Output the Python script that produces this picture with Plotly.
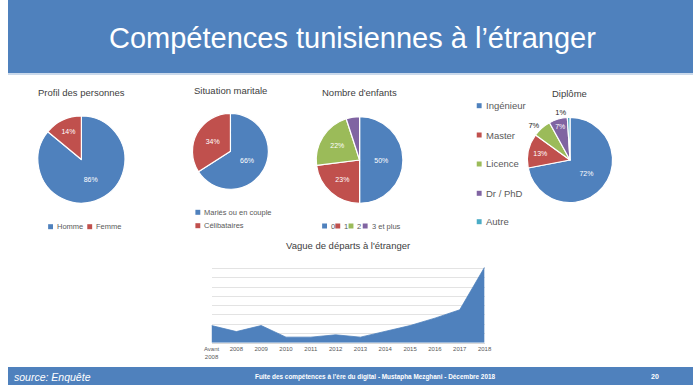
import plotly.graph_objects as go

W, H = 700, 385

# ---------------- data ----------------
profil_labels = ["Homme", "Femme"]
profil_values = [86, 14]

maritale_labels = ["Mariés ou en couple", "Célibataires"]
maritale_values = [66, 34]

enfants_labels = ["0", "1", "2", "3 et plus"]
enfants_values = [50, 23, 22, 5]

diplome_labels = ["Ingénieur", "Master", "Licence", "Dr / PhD", "Autre"]
diplome_values = [72, 13, 7, 7, 1]

annees = ["Avant<br>2008", "2008", "2009", "2010", "2011", "2012",
          "2013", "2014", "2015", "2016", "2017", "2018"]
departs = [37, 24, 37, 12, 12, 17, 12, 24, 37, 53, 71, 163]

# ---------------- styles ----------------
COLORS = ["#4F81BD", "#C0504D", "#9BBB59", "#8064A2", "#4BACC6"]
BAR = "#4F81BD"
TXT = "#595959"
FONT = "Liberation Sans"


def X(px):
    return px / W


def Y(py):
    return 1 - py / H


def dom(cx, cy, r):
    return dict(x=[X(cx - r), X(cx + r)], y=[Y(cy + r), Y(cy - r)])


fig = go.Figure()

pie_common = dict(
    sort=False, direction="clockwise", rotation=0,
    marker_line=dict(color="white", width=1.2),
    insidetextorientation="horizontal",
    insidetextfont=dict(color="white", size=7, family=FONT),
    outsidetextfont=dict(color="#222222", size=7.5, family=FONT),
    showlegend=False, hoverinfo="label+percent",
)

fig.add_trace(go.Pie(labels=profil_labels, values=profil_values,
                     marker_colors=COLORS[:2], domain=dom(75, 159.5, 44.5),
                     textposition="inside",
                     texttemplate="%{percent:.0%}", **pie_common))
fig.add_trace(go.Pie(labels=maritale_labels, values=maritale_values,
                     marker_colors=COLORS[:2], domain=dom(227.3, 151.3, 38.8),
                     textposition="inside",
                     texttemplate="%{percent:.0%}", **pie_common))
fig.add_trace(go.Pie(labels=enfants_labels, values=enfants_values,
                     marker_colors=COLORS[:4], domain=dom(359.3, 160, 44.3),
                     textposition="inside",
                     texttemplate=["%{percent:.0%}"] * 3 + [""], **pie_common))
fig.add_trace(go.Pie(labels=diplome_labels, values=diplome_values,
                     marker_colors=COLORS[:5], domain=dom(574.3, 160, 43.5),
                     textposition=["inside", "inside", "outside", "inside", "outside"],
                     texttemplate="%{percent:.0%}", **pie_common))

# area chart
fig.add_trace(go.Scatter(x=annees, y=departs, mode="lines", fill="tozeroy",
                         line=dict(color=BAR, width=0.8), fillcolor=BAR,
                         showlegend=False, xaxis="x", yaxis="y"))

shapes = []
annotations = []

# header / footer bars
shapes.append(dict(type="rect", xref="paper", yref="paper", x0=0, x1=1,
                   y0=Y(73), y1=1, fillcolor="#4F81BD", line_width=0, layer="below"))
shapes.append(dict(type="line", xref="paper", yref="paper", x0=0, x1=1,
                   y0=Y(74), y1=Y(74), line=dict(color="#B8CCE4", width=1.5)))
shapes.append(dict(type="rect", xref="paper", yref="paper", x0=0, x1=1,
                   y0=0, y1=Y(367), fillcolor="#4F81BD", line_width=0, layer="below"))

annotations.append(dict(text="Compétences tunisiennes à l’étranger", x=X(352), y=Y(38),
                        xref="paper", yref="paper", showarrow=False,
                        xanchor="center", yanchor="middle",
                        font=dict(family=FONT, size=29, color="white")))
annotations.append(dict(text="<i>source: Enquête</i>", x=X(4), y=Y(376.5),
                        xref="paper", yref="paper", showarrow=False,
                        xanchor="left", yanchor="middle",
                        font=dict(family=FONT, size=10.5, color="white")))
annotations.append(dict(text="<b>Fuite des compétences à l’ère du digital - Mustapha Mezghani - Décembre 2018</b>",
                        x=X(376), y=Y(376.5), xref="paper", yref="paper", showarrow=False,
                        xanchor="center", yanchor="middle",
                        font=dict(family=FONT, size=6.4, color="white")))
annotations.append(dict(text="<b>20</b>", x=X(661), y=Y(376.5),
                        xref="paper", yref="paper", showarrow=False,
                        xanchor="center", yanchor="middle",
                        font=dict(family=FONT, size=7, color="white")))

# chart titles
for txt, cx, cy in [("Profil des personnes", 75, 92.5),
                    ("Situation maritale", 227, 90.5),
                    ("Nombre d'enfants", 359, 92.5),
                    ("Diplôme", 574, 94),
                    ("Vague de départs à l'étranger", 347, 245)]:
    annotations.append(dict(text=txt, x=X(cx), y=Y(cy), xref="paper", yref="paper",
                            showarrow=False, xanchor="center", yanchor="middle",
                            font=dict(family=FONT, size=9.5, color="#404040")))


def legend_item(label, color, x, y, size=7.5, sq=5):
    shapes.append(dict(type="rect", xref="paper", yref="paper",
                       x0=X(x), x1=X(x + sq), y0=Y(y + sq / 2), y1=Y(y - sq / 2),
                       fillcolor=color, line_width=0))
    annotations.append(dict(text=label, x=X(x + sq + 2), y=Y(y), xref="paper", yref="paper",
                            showarrow=False, xanchor="left", yanchor="middle",
                            font=dict(family=FONT, size=size, color=TXT)))


# legends
for lab, col, x in zip(profil_labels, COLORS, [41, 81]):
    legend_item(lab, col, x, 226.7)
for lab, col, y in zip(maritale_labels, COLORS, [212.3, 225.7]):
    legend_item(lab, col, 191.5, y)
for lab, col, x in zip(enfants_labels, COLORS, [321, 334.5, 348, 362.5]):
    legend_item(lab, col, x, 226)
for lab, col, y in zip(diplome_labels, COLORS, [105.7, 135, 164, 193.3, 221.7]):
    legend_item(lab, col, 479, y, size=9.5, sq=5)

fig.update_layout(
    width=W, height=H, autosize=False,
    margin=dict(l=0, r=0, t=0, b=0),
    paper_bgcolor="white", plot_bgcolor="white",
    shapes=shapes, annotations=annotations,
    xaxis=dict(domain=[X(208), X(487)], anchor="y", type="category",
               range=[0, 11], showgrid=False, zeroline=False,
               showline=True, linecolor="#D9D9D9", linewidth=1,
               ticks="", tickfont=dict(family=FONT, size=6, color=TXT),
               fixedrange=True),
    yaxis=dict(domain=[Y(342.7), Y(259.3)], anchor="x", range=[0, 180], dtick=20,
               showgrid=True, gridcolor="#E3E3E3", gridwidth=1,
               zeroline=False, showticklabels=False, ticks="", fixedrange=True),
)

post = (
    "document.documentElement.style.margin='0';"
    "document.body.style.margin='0';document.body.style.padding='0';"
    "document.body.style.overflow='hidden';"
    "var d=document.getElementById('{plot_id}');"
    "d.style.position='fixed';d.style.left='0px';d.style.top='0px';"
)

fig.write_html("out.html", config={"displayModeBar": False}, post_script=post)
